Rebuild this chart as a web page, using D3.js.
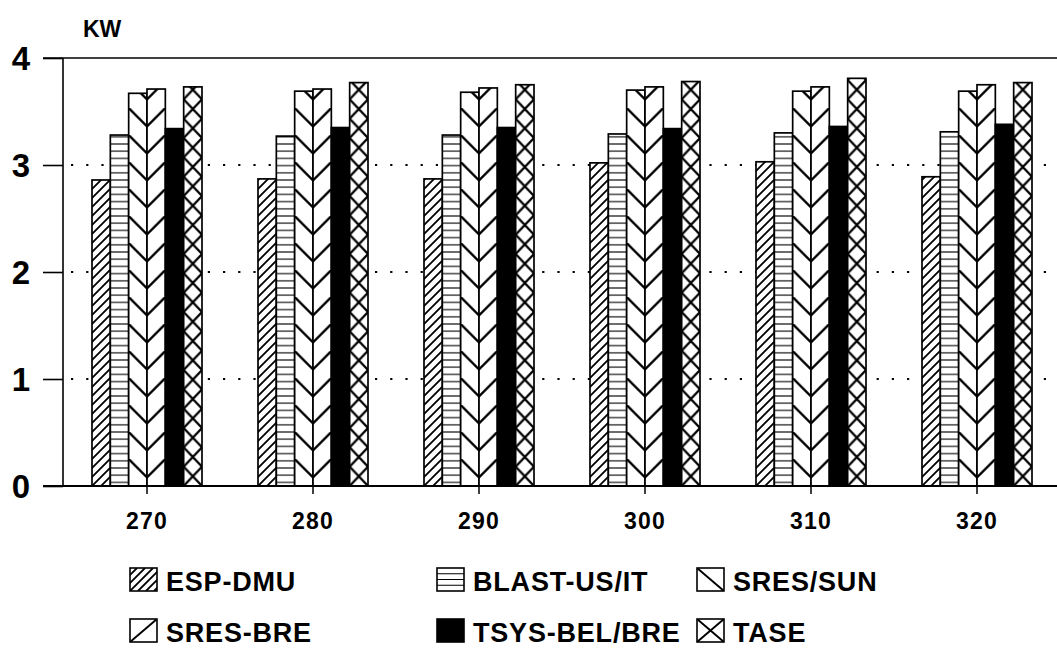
<!DOCTYPE html>
<html>
<head>
<meta charset="utf-8">
<script src="https://cdn.jsdelivr.net/npm/d3@7"></script>
<style>
  html, body { margin: 0; padding: 0; background: #fff; }
  svg { display: block; }
  text { font-family: "Liberation Sans", Arial, Helvetica, sans-serif; font-weight: bold; fill: #000; }
</style>
</head>
<body>
<script>
// ---- data ----
const groups = ["270", "280", "290", "300", "310", "320"];
const seriesNames = ["ESP-DMU", "BLAST-US/IT", "SRES/SUN", "SRES-BRE", "TSYS-BEL/BRE", "TASE"];
const espDmu  = [2.86, 2.87, 2.87, 3.02, 3.03, 2.89];
const blastUs = [3.28, 3.27, 3.28, 3.29, 3.30, 3.31];
const sresSun = [3.67, 3.69, 3.68, 3.70, 3.69, 3.69];
const sresBre = [3.71, 3.71, 3.72, 3.73, 3.73, 3.75];
const tsysBel = [3.34, 3.35, 3.35, 3.34, 3.36, 3.38];
const tase    = [3.73, 3.77, 3.75, 3.78, 3.81, 3.77];
const yTicks = [0, 1, 2, 3, 4];
const gridValues = [1, 2, 3];
const yUnit = "KW";

const seriesValues = [espDmu, blastUs, sresSun, sresBre, tsysBel, tase];

// ---- layout ----
const W = 1057, H = 652;
const axisX = 63, plotRight = 1057;
const svg = d3.select("body").append("svg").attr("width", W).attr("height", H);
const defs = svg.append("defs");

const y = d3.scaleLinear().domain([0, 4]).range([486, 58]);
const x = d3.scaleBand().domain(groups).range([64, 1060]).padding(0);
const xi = d3.scaleBand().domain(seriesNames).range([28, 138]).padding(0);
const bw = xi.bandwidth();

// ---- gridlines (dotted) ----
svg.append("g").selectAll("line").data(gridValues).join("line")
  .attr("x1", axisX + 8).attr("x2", plotRight)
  .attr("y1", d => y(d)).attr("y2", d => y(d))
  .attr("stroke", "#000").attr("stroke-width", 2.2)
  .attr("stroke-dasharray", "2.2,13");

// ---- pattern builders ----
function makePattern(id, sIdx, tx, ty) {
  const p = defs.append("pattern").attr("id", id)
    .attr("patternUnits", "userSpaceOnUse")
    .attr("patternTransform", `translate(${tx},${ty})`);
  if (sIdx === 0) { // dense forward diagonal
    const s = 9;
    p.attr("width", s).attr("height", s);
    p.append("rect").attr("width", s).attr("height", s).attr("fill", "#fff");
    p.append("path").attr("d", `M0,${s} L${s},0 M${-s/2},${s/2} L${s/2},${-s/2} M${s/2},${s*1.5} L${s*1.5},${s/2}`)
      .attr("stroke", "#000").attr("stroke-width", 1.8);
  } else if (sIdx === 1) { // horizontal lines
    const h = 7.2;
    p.attr("width", 10).attr("height", h);
    p.append("rect").attr("width", 10).attr("height", h).attr("fill", "#fff");
    p.append("line").attr("x1", 0).attr("x2", 10).attr("y1", h / 2).attr("y2", h / 2)
      .attr("stroke", "#000").attr("stroke-width", 1.1);
  } else if (sIdx === 2 || sIdx === 3) { // chevron halves
    const h = 27;
    p.attr("width", bw).attr("height", h);
    p.append("rect").attr("width", bw).attr("height", h).attr("fill", "#fff");
    const d = sIdx === 2 ? `M0,${-h} L${bw},${bw - h} M0,0 L${bw},${bw}`
                         : `M0,${bw - h} L${bw},${-h} M0,${bw} L${bw},0`;
    p.append("path").attr("d", d).attr("stroke", "#000").attr("stroke-width", 2.4)
      .attr("stroke-linecap", "square").attr("fill", "none");
  } else if (sIdx === 5) { // crosshatch
    const h = bw + 1;
    p.attr("width", bw).attr("height", h);
    p.append("rect").attr("width", bw).attr("height", h).attr("fill", "#fff");
    p.append("path").attr("d", `M0,0 L${bw},${h} M0,${h} L${bw},0`)
      .attr("stroke", "#000").attr("stroke-width", 2.2).attr("fill", "none");
  }
}

// ---- bars ----
const barData = [];
groups.forEach((g, gi) => {
  seriesNames.forEach((s, si) => {
    barData.push({ g, gi, s, si, v: seriesValues[si][gi] });
  });
});

barData.forEach(d => {
  d.x = x(d.g) + xi(d.s);
  d.id = `pat-${d.si}-${d.gi}`;
  if (d.si !== 4) makePattern(d.id, d.si, d.x, y(0));
});

svg.append("g").selectAll("rect").data(barData).join("rect")
  .attr("x", d => d.x)
  .attr("y", d => y(d.v))
  .attr("width", bw)
  .attr("height", d => y(0) - y(d.v))
  .attr("fill", d => d.si === 4 ? "#000" : `url(#${d.id})`)
  .attr("stroke", "#000")
  .attr("stroke-width", 1.7);

// ---- frame lines ----
svg.append("line").attr("x1", 43).attr("x2", plotRight).attr("y1", y(4)).attr("y2", y(4))
  .attr("stroke", "#000").attr("stroke-width", 1.6);
svg.append("line").attr("x1", 43).attr("x2", plotRight).attr("y1", y(0)).attr("y2", y(0))
  .attr("stroke", "#000").attr("stroke-width", 1.8);

// ---- y axis ----
const yAxis = d3.axisLeft(y).tickValues(yTicks).tickFormat(d3.format("d")).tickSize(20).tickPadding(13);
const gy = svg.append("g").attr("transform", `translate(${axisX},0)`).call(yAxis);
gy.select(".domain").attr("stroke", "#000").attr("stroke-width", 1.6).attr("d", `M0,${y(4)}V${y(0)}`);
gy.selectAll(".tick line").attr("stroke", "#000").attr("stroke-width", 1.6);
gy.selectAll(".tick text").style("font-size", "33px").style("font-family", "'Liberation Sans', Arial, sans-serif")
  .style("font-weight", "bold").attr("fill", "#000").attr("dy", "0.36em");

// unit label
svg.append("text").attr("x", 83).attr("y", 37).style("font-size", "23px").text(yUnit);

// ---- x axis ----
const xAxis = d3.axisBottom(x).tickSize(8).tickPadding(19);
const gx = svg.append("g").attr("transform", `translate(0,${y(0)})`).call(xAxis);
gx.select(".domain").remove();
gx.selectAll(".tick line").attr("stroke", "#000").attr("stroke-width", 1.5);
gx.selectAll(".tick text").style("font-size", "23px").style("font-family", "'Liberation Sans', Arial, sans-serif")
  .style("font-weight", "bold").style("letter-spacing", "1.2px").attr("fill", "#000");

// ---- legend ----
const legendPos = [
  { x: 130, y: 568 }, { x: 437, y: 568 }, { x: 697, y: 568 },
  { x: 130, y: 619 }, { x: 437, y: 619 }, { x: 697, y: 619 }
];
const sw = 27, sh = 23;
const lg = svg.append("g");
seriesNames.forEach((name, i) => {
  const p = legendPos[i];
  const g = lg.append("g").attr("transform", `translate(${p.x},${p.y})`);
  const clipId = `lclip-${i}`;
  defs.append("clipPath").attr("id", clipId).append("rect").attr("width", sw).attr("height", sh);
  g.append("rect").attr("width", sw).attr("height", sh).attr("fill", i === 4 ? "#000" : "#fff");
  const inner = g.append("g").attr("clip-path", `url(#${clipId})`);
  const stroke = l => l.attr("stroke", "#000").attr("fill", "none");
  if (i === 0) {
    let d = "";
    for (let k = -2; k < 5; k++) { const o = k * 8; d += `M${o},${sh} L${o + sh},0 `; }
    stroke(inner.append("path").attr("d", d)).attr("stroke-width", 1.8);
  } else if (i === 1) {
    let d = "";
    [5.75, 11.5, 17.25].forEach(v => { d += `M0,${v} L${sw},${v} `; });
    stroke(inner.append("path").attr("d", d)).attr("stroke-width", 1.2);
  } else if (i === 2) {
    stroke(inner.append("path").attr("d", `M0,0 L${sw},${sh}`)).attr("stroke-width", 2);
  } else if (i === 3) {
    stroke(inner.append("path").attr("d", `M0,${sh} L${sw},0`)).attr("stroke-width", 2);
  } else if (i === 5) {
    stroke(inner.append("path").attr("d", `M0,0 L${sw},${sh} M0,${sh} L${sw},0`)).attr("stroke-width", 2);
  }
  g.append("rect").attr("width", sw).attr("height", sh).attr("fill", "none")
    .attr("stroke", "#000").attr("stroke-width", 1.6);
  g.append("text").attr("x", sw + 9).attr("y", sh)
    .style("font-size", "27px").style("letter-spacing", "0.8px").text(name);
});
</script>
</body>
</html>
